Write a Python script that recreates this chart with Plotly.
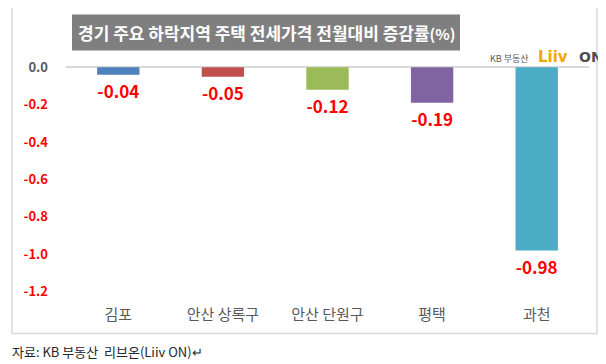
import plotly.graph_objects as go

categories = ["김포", "안산 상록구", "안산 단원구", "평택", "과천"]
values = [-0.04, -0.05, -0.12, -0.19, -0.98]
bar_colors = ["#4F81BD", "#C0504D", "#9BBB59", "#8064A2", "#4BACC6"]
y_ticks = [0.0, -0.2, -0.4, -0.6, -0.8, -1.0, -1.2]
y_tick_labels = ["0.0", "-0.2", "-0.4", "-0.6", "-0.8", "-1.0", "-1.2"]
title_text = "경기 주요 하락지역 주택 전세가격 전월대비 증감률<span style='font-size:15px'>(%)</span>"
source_text = "자료: KB 부동산  리브온(Liiv ON)↵"

FONT = "Noto Sans CJK KR"

# page offset (browser body margin) and plot-area geometry in figure pixels
OFF = 8
W, H = 598, 356
L, T, PW, PH = 58, 49.6, 523, 243.75


def xp(x_ref):
    return (x_ref - OFF - L) / PW


def yp(y_ref):
    return (T + PH - (y_ref - OFF)) / PH


tick_text = []
for v, t in zip(y_ticks, y_tick_labels):
    col = "#595959" if v == 0 else "#FF0000"
    tick_text.append(f"<span style='color:{col}'><b>{t}</b></span>")

fig = go.Figure()
fig.add_trace(go.Bar(
    x=categories, y=values,
    marker=dict(color=bar_colors, line=dict(width=0)),
    width=0.405,
    text=[f"{v:.2f}" for v in values],
    textposition="outside",
    textfont=dict(family=FONT, size=17, color="#FF0000", weight="bold"),
    cliponaxis=False,
))

fig.update_layout(
    width=W, height=H,
    margin=dict(l=L, r=W - L - PW, t=T, b=H - T - PH),
    paper_bgcolor="white", plot_bgcolor="white",
    showlegend=False,
    font=dict(family=FONT),
    xaxis=dict(showline=False, showgrid=False, zeroline=False, ticks="",
               tickfont=dict(family=FONT, size=15, color="#595959"),
               ticklabelstandoff=3),
    yaxis=dict(range=[-1.25, 0.05], tickvals=y_ticks, ticktext=tick_text,
               showgrid=False, zeroline=True, zerolinecolor="#D9D9D9", zerolinewidth=2,
               showline=False, ticks="",
               tickfont=dict(family=FONT, size=13),
               ticklabelstandoff=17),
    shapes=[
        dict(type="rect", xref="paper", yref="paper",
             x0=xp(12), x1=xp(597), y0=yp(334), y1=yp(6),
             line=dict(color="#D9D9D9", width=1.5), layer="below"),
        dict(type="rect", xref="paper", yref="paper",
             x0=xp(72), x1=xp(460), y0=yp(50), y1=yp(14),
             fillcolor="#7F7F7F", line=dict(width=0), layer="below"),
    ],
    annotations=[
        dict(text="<b>" + title_text + "</b>", xref="paper", yref="paper",
             x=xp(266), y=yp(32), xanchor="center", yanchor="middle",
             showarrow=False,
             font=dict(family=FONT, size=17, color="white")),
        dict(text="KB 부동산", xref="paper", yref="paper",
             x=xp(531), y=yp(58), xanchor="right", yanchor="middle",
             showarrow=False, font=dict(family=FONT, size=9, color="#595959")),
        dict(text="<b>Liiv</b>", xref="paper", yref="paper",
             x=xp(536), y=yp(57), xanchor="left", yanchor="middle",
             showarrow=False, font=dict(family="DejaVu Sans", size=15, color="#F7A600")),
        dict(text="<b>ON</b>", xref="paper", yref="paper",
             x=xp(577), y=yp(57), xanchor="left", yanchor="middle",
             showarrow=False, font=dict(family="DejaVu Sans", size=14, color="#4D4D4D")),
        dict(text=source_text, xref="paper", yref="paper",
             x=xp(10), y=yp(352), xanchor="left", yanchor="middle",
             showarrow=False, font=dict(family=FONT, size=13, color="#262626")),
    ],
)

fig.write_html("out.html")
